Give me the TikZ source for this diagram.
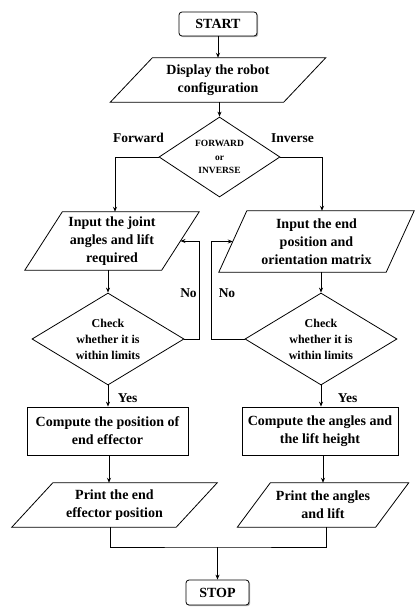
\documentclass[tikz,border=0pt]{standalone}
\usepackage{fontspec}
\setmainfont{Liberation Serif}
\usetikzlibrary{shapes.geometric,arrows.meta,shadows}
\newcommand\paral[2]{%
  \draw[line width=0.8pt] ([xshift=#2/2]#1.north west) -- ([xshift=#2/2]#1.north east)
    -- ([xshift=-#2/2]#1.south east) -- ([xshift=-#2/2]#1.south west) -- cycle;}
\begin{document}
\begin{tikzpicture}[x=1pt,y=-1pt,
  every node/.style={font=\fontsize{14}{18}\selectfont\bfseries, inner sep=0pt},
  term/.style={draw, line width=0.8pt, rounded corners=3pt, fill=white,
    drop shadow={shadow xshift=1.2pt, shadow yshift=-1.2pt, fill=gray!60, opacity=1}},
  procbox/.style={draw, line width=0.8pt, align=center},
  iobox/.style={align=center},
  decbox/.style={draw, line width=0.8pt, diamond, align=center},
  lbl/.style={font=\fontsize{13.5}{16}\selectfont\bfseries},
  conn/.style={line width=0.8pt, -{Stealth[length=5pt,width=4pt]}},
  plain/.style={line width=0.8pt}]
\useasboundingbox (0,0) rectangle (418,608);
\fill[white] (0,0) rectangle (418,608);

\node[term, minimum width=78pt, minimum height=24pt] (start) at (218,24) {START};
\node[iobox, minimum width=173pt, minimum height=44pt] (disp) at (218,80) {Display the robot\\configuration};
\node[decbox, minimum width=121pt, minimum height=80pt, aspect=1.51,
  font=\fontsize{9.5}{13.5}\selectfont\bfseries] (dec) at (219.5,157) {FORWARD\\or\\INVERSE};
\node[iobox, minimum width=136.5pt, minimum height=58pt] (in1) at (112,241) {Input the joint\\angles and lift\\required};
\node[iobox, minimum width=167pt, minimum height=61pt] (in2) at (316.5,241.5) {Input the end\\position and\\orientation matrix};
\node[decbox, minimum width=152pt, minimum height=92pt, aspect=1.65,
  font=\fontsize{12}{16}\selectfont\bfseries] (chk1) at (108,339) {Check\\whether it is\\within limits};
\node[decbox, minimum width=152pt, minimum height=92pt, aspect=1.65,
  font=\fontsize{12}{16}\selectfont\bfseries] (chk2) at (321,339) {Check\\whether it is\\within limits};
\node[procbox, minimum width=161pt, minimum height=48pt] (comp1) at (107.5,431) {Compute the position of\\end effector};
\node[procbox, minimum width=156pt, minimum height=48pt] (comp2) at (320,431) {Compute the angles and\\the lift height};
\node[iobox, minimum width=164pt, minimum height=44pt] (pr1) at (114.5,505) {Print the end\\effector position};
\node[iobox, minimum width=138pt, minimum height=44pt] (pr2) at (323,505) {Print the angles\\and lift};
\node[term, minimum width=63pt, minimum height=25pt] (stop) at (217.5,592.5) {STOP};

\paral{disp}{42pt}
\paral{in1}{37.5pt}
\paral{in2}{28pt}
\paral{pr1}{41pt}
\paral{pr2}{33pt}

\node[lbl] (lfwd) at (138.5,138) {Forward};
\node[lbl] (linv) at (292.5,138) {Inverse};
\node[lbl] (lno1) at (188.5,293) {No};
\node[lbl] (lno2) at (227,293) {No};
\node[lbl] (lyes1) at (127.5,398) {Yes};
\node[lbl] (lyes2) at (347.5,398) {Yes};

\coordinate (mid) at (217.5,547);

\draw[conn] (start.south) -- (start.south |- disp.north);
\draw[conn] (disp.south -| dec.north) -- (dec.north);
\draw[conn] (dec.west) -| ([xshift=3pt]in1.north);
\draw[conn] (dec.east) -| ([xshift=5.5pt]in2.north);
\draw[conn] (in1.south -| chk1.north) -- (chk1.north);
\draw[conn] (in2.south -| chk2.north) -- (chk2.north);
\draw[conn] (chk1.east) -- ++(15,0) |- (in1.east);
\draw[conn] (chk2.west) -- ++(-33,0) |- (in2.west);
\draw[conn] (chk1.south) -- (chk1.south |- comp1.north);
\draw[conn] (chk2.south) -- (chk2.south |- comp2.north);
\draw[conn] ([xshift=1.5pt]comp1.south) -- ([xshift=1.5pt]comp1.south |- pr1.north);
\draw[conn] (comp2.south -| pr2.north) -- (pr2.north);
\draw[plain] ([xshift=-4.5pt]pr1.south) |- (mid) -| ([xshift=3pt]pr2.south);
\draw[conn] (mid) -- (stop.north);
\end{tikzpicture}
\end{document}
